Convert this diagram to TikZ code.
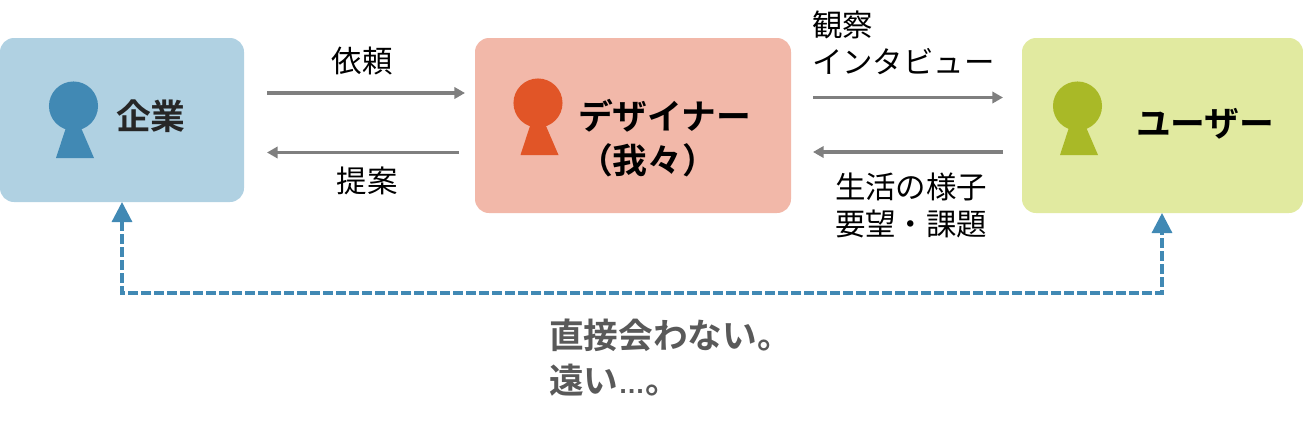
\documentclass[tikz,border=0pt]{standalone}
\usepackage{fontspec}
\usetikzlibrary{arrows.meta,calc}
\newfontfamily\jp{Noto Sans CJK JP}
\newfontfamily\jpb{Noto Sans CJK JP Bold}
\newfontfamily\lat{Liberation Sans Bold}
\definecolor{boxA}{HTML}{B0D1E2}\definecolor{figA}{HTML}{4189B4}
\definecolor{boxB}{HTML}{F2B8A9}\definecolor{figB}{HTML}{E15527}
\definecolor{boxC}{HTML}{E1EAA0}\definecolor{figC}{HTML}{A9B927}
\definecolor{arrowgray}{HTML}{7F7F7F}\definecolor{notegray}{HTML}{595959}
\tikzset{
 card/.style={anchor=north west,inner sep=0pt,outer sep=0pt,rounded corners=10.5pt},
 label/.style={inner sep=0pt,outer sep=0pt,font=\fontsize{22.85pt}{27.75pt}\selectfont\jp,text=black,align=left},
 title/.style={inner sep=0pt,outer sep=0pt,font=\fontsize{26.1pt}{33pt}\selectfont\jpb,align=left},
 flow/.style={draw=arrowgray,line width=2.6pt,-{Triangle[length=8pt,width=8.5pt,fill=arrowgray]}},
 far/.style={draw=figA,line width=2.4pt,dash pattern=on 7.5pt off 2.25pt,{Triangle[length=15pt,width=15pt,fill=figA]}-{Triangle[length=15pt,width=15pt,fill=figA]}},
}
\newcommand{\person}[4]{% cx, cy, baseline, colour
 \fill[#4] (#1,#2) circle[radius=18.4pt];
 \fill[#4] (#1-8,#3-29) -- (#1+8,#3-29) -- (#1+20.5,#3) -- (#1-17.5,#3) -- cycle;}
\begin{document}
\begin{tikzpicture}[x=0.75pt,y=-0.75pt]
\useasboundingbox (0,0) rectangle (1303,422);
\node[card,fill=boxA,minimum width=183pt,minimum height=123pt] (a) at (0,38) {};
\node[card,fill=boxB,minimum width=237pt,minimum height=131.25pt] (b) at (475,38) {};
\node[card,fill=boxC,minimum width=210.75pt,minimum height=131.25pt] (c) at (1022,38) {};
\person{73.5}{106}{158}{figA}
\person{538}{103}{155}{figB}
\person{1077.5}{106}{155}{figC}
\node[title,anchor=west,text={rgb,255:red,38;green,38;blue,38}] (ta) at (116,116) {企業};
\node[title,anchor=west,text=black] (tb) at (578,138) {デザイナー\\（我々）};
\node[title,anchor=west,text=black] (tc) at (1136,124) {ユーザー};
\node[label,anchor=center] (l1) at (362,61) {依頼};
\node[label,anchor=center] (l2) at (367,181) {提案};
\node[label,anchor=west] (l3) at (812,43) {観察\\インタビュー};
\node[label,anchor=west] (l4) at (835,205) {生活の様子\\要望・課題};
\node[title,anchor=west,text=notegray,font=\fontsize{26pt}{33.75pt}\selectfont\jpb] (n) at (549,358) {直接会わない。\\遠い{\lat\fontsize{20pt}{20pt}\selectfont …}。};
\coordinate (y1) at (0,93);
\coordinate (y2) at (0,152.5);
\coordinate (y3) at (0,97.5);
\coordinate (y4) at (0,152);
\draw[flow,shorten <=17.25pt,shorten >=7.5pt] (a.east |- y1) -- (b.west |- y1);
\draw[flow,shorten <=12pt,shorten >=17.25pt] (b.west |- y2) -- (a.east |- y2);
\draw[flow,shorten <=16.5pt,shorten >=14.25pt] (b.east |- y3) -- (c.west |- y3);
\draw[flow,shorten <=14.25pt,shorten >=16.5pt] (c.west |- y4) -- (b.east |- y4);
\coordinate (d1) at (122,293);
\coordinate (d2) at (1162,293);
\draw[far] (a.south -| d1) -- (d1) -- (d2) -- (c.south -| d2);
\end{tikzpicture}
\end{document}
